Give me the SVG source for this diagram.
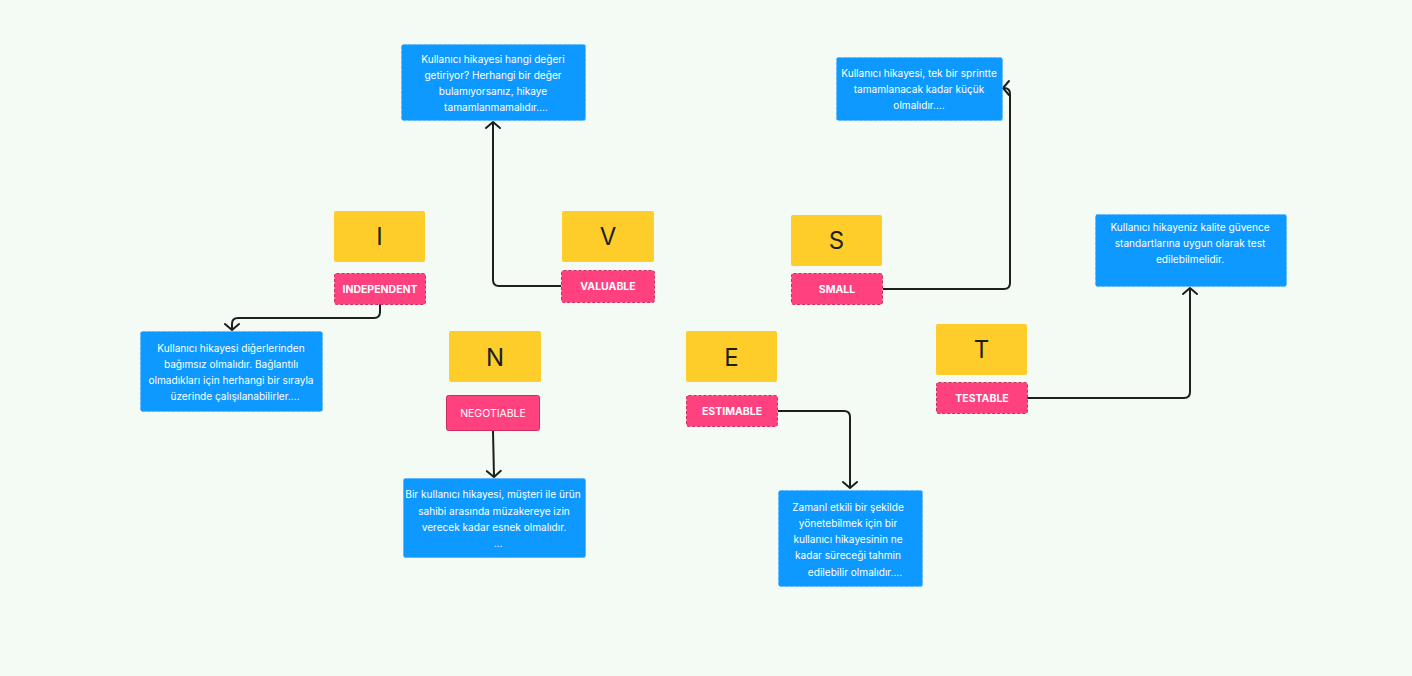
<svg xmlns="http://www.w3.org/2000/svg" width="1412" height="676" viewBox="0 0 1412 676">
<defs>
<style>
.bg{fill:#f3fbf4}
.letter{fill:#ffcd29}
.lt{font-family:Inter,"Noto Sans",sans-serif;font-size:24px;fill:#1e1e1e;text-anchor:middle}
.lab{fill:#ff417f;stroke:#c9305f;stroke-width:1;stroke-dasharray:3 2}
.labs{fill:#ff417f;stroke:#c9305f;stroke-width:1}
.lbt{font-family:Inter,"Noto Sans",sans-serif;font-size:10.5px;font-weight:700;fill:#ffffff;text-anchor:middle}
.lbn{font-family:Inter,"Noto Sans",sans-serif;font-size:10.5px;font-weight:400;fill:#ffffff;text-anchor:middle}
.note{fill:#0d99ff;stroke:#5fb9ff;stroke-width:1;stroke-dasharray:3 2}
.notes{fill:#0d99ff;stroke:#5fb9ff;stroke-width:1}
.nt{font-family:Inter,"Noto Sans",sans-serif;font-size:10.1px;fill:#ffffff;text-anchor:middle}
.conn{fill:none;stroke:#1e1e1e;stroke-width:2;stroke-linejoin:round}
</style>
<marker id="arr" markerUnits="userSpaceOnUse" markerWidth="20" markerHeight="20" viewBox="-10 -10 20 20" refX="0" refY="0" orient="auto" overflow="visible">
<path d="M-6,-7 L0,0 L-6,7" fill="none" stroke="#1e1e1e" stroke-width="2" stroke-linecap="round" stroke-linejoin="round"/>
</marker>
</defs>
<rect class="bg" x="0" y="0" width="1412" height="676"/>

<g id="connectors">
<path class="conn" d="M380,304 V312 Q380,318 374,318 H238 Q232,318 232,324 V330" marker-end="url(#arr)"/>
<path class="conn" d="M561,286 H499 Q493,286 493,280 V122" marker-end="url(#arr)"/>
<path class="conn" d="M883,289 H1004 Q1010,289 1010,283 V94 Q1010,88 1004,88 H1003" marker-end="url(#arr)"/>
<path class="conn" d="M493,431 L494,477" marker-end="url(#arr)"/>
<path class="conn" d="M778,411 H844 Q850,411 850,417 V488" marker-end="url(#arr)"/>
<path class="conn" d="M1027,398 H1184 Q1190,398 1190,392 V288" marker-end="url(#arr)"/>
</g>

<g id="node-I">
<rect class="letter" x="334" y="211" width="91" height="51" rx="2"/>
<text class="lt" x="379.5" y="245">I</text>
</g>
<g id="label-independent">
<rect class="lab" x="334.5" y="273.5" width="91" height="31" rx="2"/>
<text class="lbt" x="380" y="293">INDEPENDENT</text>
</g>
<g id="note-I">
<rect class="note" x="140.5" y="331.5" width="182" height="80" rx="2"/>
<text class="nt"><tspan x="231" y="352">Kullanıcı hikayesi diğerlerinden</tspan><tspan x="231" y="368">bağımsız olmalıdır. Bağlantılı</tspan><tspan x="231" y="384">olmadıkları için herhangi bir sırayla</tspan><tspan x="235" y="400">üzerinde çalışılanabilirler....</tspan></text>
</g>

<g id="node-V">
<rect class="letter" x="562" y="211" width="92" height="51" rx="2"/>
<text class="lt" x="608" y="245">V</text>
</g>
<g id="label-valuable">
<rect class="lab" x="561.5" y="270.5" width="93" height="32" rx="2"/>
<text class="lbt" x="608" y="290">VALUABLE</text>
</g>
<g id="note-V">
<rect class="note" x="401.5" y="44.5" width="184" height="76" rx="2"/>
<text class="nt"><tspan x="493" y="63">Kullanıcı hikayesi hangi değeri</tspan><tspan x="493" y="79">getiriyor? Herhangi bir değer</tspan><tspan x="493" y="95">bulamıyorsanız, hikaye</tspan><tspan x="496" y="111">tamamlanmamalıdır....</tspan></text>
</g>

<g id="node-S">
<rect class="letter" x="791" y="215" width="91" height="51" rx="2"/>
<text class="lt" x="836.5" y="249">S</text>
</g>
<g id="label-small">
<rect class="lab" x="791.5" y="273.5" width="91" height="31" rx="2"/>
<text class="lbt" x="837" y="293">SMALL</text>
</g>
<g id="note-S">
<rect class="note" x="836.5" y="57.5" width="166" height="63" rx="2"/>
<text class="nt"><tspan x="919" y="77">Kullanıcı hikayesi, tek bir sprintte</tspan><tspan x="919" y="93">tamamlanacak kadar küçük</tspan><tspan x="919" y="109">olmalıdır....</tspan></text>
</g>

<g id="node-N">
<rect class="letter" x="449" y="331" width="92" height="51" rx="2"/>
<text class="lt" x="495" y="366">N</text>
</g>
<g id="label-negotiable">
<rect class="labs" x="446.5" y="395.5" width="93" height="35" rx="2"/>
<text class="lbn" x="493" y="417">NEGOTIABLE</text>
</g>
<g id="note-N">
<rect class="notes" x="403.5" y="478.5" width="182" height="79" rx="2"/>
<text class="nt"><tspan x="493" y="498">Bir kullanıcı hikayesi, müşteri ile ürün</tspan><tspan x="494" y="515">sahibi arasında müzakereye izin</tspan><tspan x="494" y="531">verecek kadar esnek olmalıdır.</tspan><tspan x="498" y="547">...</tspan></text>
</g>

<g id="node-E">
<rect class="letter" x="686" y="331" width="91" height="51" rx="2"/>
<text class="lt" x="731.5" y="366">E</text>
</g>
<g id="label-estimable">
<rect class="lab" x="686.5" y="395.5" width="91" height="31" rx="2"/>
<text class="lbt" x="732" y="415">ESTIMABLE</text>
</g>
<g id="note-E">
<rect class="note" x="778.5" y="490.5" width="144" height="96" rx="2"/>
<text class="nt"><tspan x="848" y="511">Zamanl etkili bir şekilde</tspan><tspan x="848" y="527">yönetebilmek için bir</tspan><tspan x="848" y="543">kullanıcı hikayesinin ne</tspan><tspan x="848" y="559">kadar süreceği tahmin</tspan><tspan x="855" y="576">edilebilir olmalıdır....</tspan></text>
</g>

<g id="node-T">
<rect class="letter" x="936" y="324" width="91" height="51" rx="2"/>
<text class="lt" x="981.5" y="358">T</text>
</g>
<g id="label-testable">
<rect class="lab" x="936.5" y="382.5" width="91" height="31" rx="2"/>
<text class="lbt" x="982" y="402">TESTABLE</text>
</g>
<g id="note-T">
<rect class="note" x="1095.5" y="214.5" width="191" height="72" rx="2"/>
<text class="nt"><tspan x="1190" y="231">Kullanıcı hikayeniz kalite güvence</tspan><tspan x="1190" y="247">standartlarına uygun olarak test</tspan><tspan x="1190" y="263">edilebilmelidir.</tspan></text>
</g>
</svg>
